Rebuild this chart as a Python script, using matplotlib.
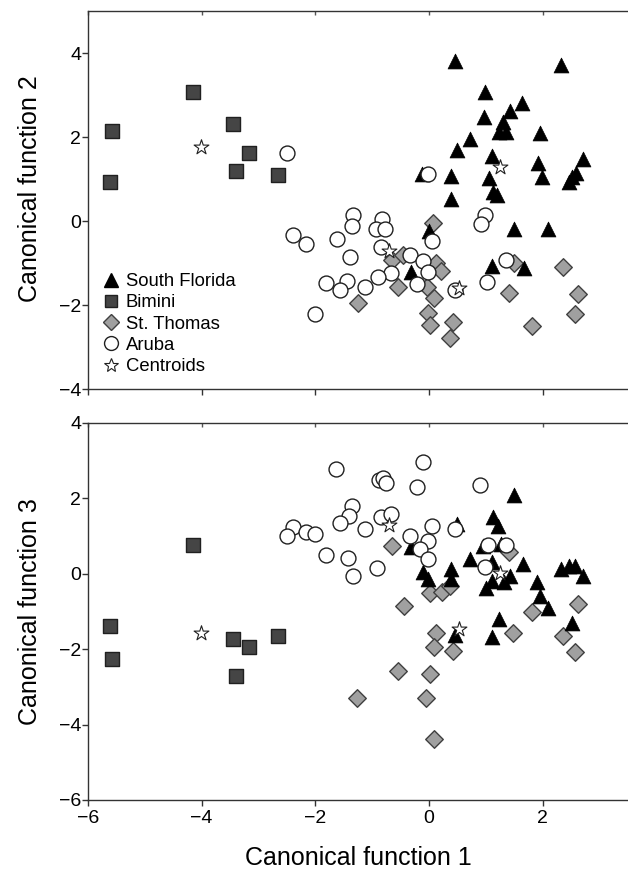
import matplotlib
matplotlib.use("Agg")
import matplotlib.pyplot as plt
from matplotlib.lines import Line2D

plt.rcParams['font.family'] = ['Liberation Sans', 'DejaVu Sans']

# ---------------- Top panel: canonical function 1 vs 2 ----------------
sf_x_top = [0.46, 2.33, 0.98, 1.64, 1.42, 0.96, 1.30, 1.23, 1.35, 1.95, 0.72, 0.50, 1.10,
            1.91, 2.70, 1.98, 2.59, 2.51, 2.46, -0.13, 0.38, 1.05, 1.13, 1.19, 0.38, 1.49,
            2.10, 0.00, 1.11, 1.67, -0.32]
sf_cf2 = [3.82, 3.71, 3.08, 2.80, 2.63, 2.48, 2.36, 2.12, 2.12, 2.10, 1.96, 1.70, 1.54,
          1.38, 1.48, 1.04, 1.15, 1.05, 0.94, 1.13, 1.08, 1.02, 0.70, 0.62, 0.52, -0.19,
          -0.20, -0.23, -1.07, -1.13, -1.22]

bim_x_top = [-5.57, -5.61, -4.15, -3.45, -3.17, -3.40, -2.65]
bim_cf2 = [2.15, 0.92, 3.06, 2.31, 1.62, 1.18, 1.10]

st_x_top = [0.07, -0.65, -0.46, 0.12, 0.21, -0.54, -1.25, -0.03, 0.08, -0.02, 0.02, 0.42,
            0.36, 1.50, 2.35, 1.41, 2.62, 2.57, 1.81]
st_cf2 = [-0.05, -0.93, -0.81, -1.01, -1.19, -1.58, -1.96, -1.56, -1.84, -2.20, -2.47, -2.40,
          -2.79, -0.99, -1.10, -1.72, -1.74, -2.21, -2.49]

ar_x_top = [-1.34, -1.35, -0.83, -0.93, -0.77, -2.39, -2.16, -1.62, -1.39, -0.85, -0.33, -0.11,
            -0.01, -0.21, -0.67, -0.89, 0.05, -1.81, -1.44, -1.56, -1.13, -2.00, 0.99, 0.91,
            0.45, 1.35, 1.02, -2.50, -0.01]
ar_cf2 = [0.15, -0.13, 0.04, -0.20, -0.20, -0.33, -0.55, -0.42, -0.86, -0.61, -0.81, -0.95,
          -1.22, -1.50, -1.24, -1.33, -0.47, -1.48, -1.44, -1.64, -1.56, -2.21, 0.14, -0.07,
          -1.64, -0.94, -1.46, 1.61, 1.13]

cen_x = [1.25, -4.01, 0.53, -0.71]
cen_cf2 = [1.28, 1.77, -1.59, -0.71]

# ---------------- Bottom panel: canonical function 1 vs 3 ----------------
sf_x_bot = [1.49, 1.13, 1.21, 0.50, -0.32, 0.95, 0.72, 1.65, 1.10, 2.33, 2.46, 2.57, 2.70,
            -0.11, -0.02, 0.38, 0.39, 1.42, 1.11, 1.01, 1.32, 1.90, 1.95, 2.09, 2.52, 1.23,
            1.11, 0.46, 1.27]
sf_cf3 = [2.08, 1.50, 1.26, 1.33, 0.71, 0.74, 0.40, 0.27, 0.30, 0.12, 0.21, 0.21, -0.05,
          0.05, -0.14, 0.13, -0.13, -0.05, -0.20, -0.38, -0.21, -0.23, -0.58, -0.91, -1.31,
          -1.19, -1.68, -1.62, 0.80]

bim_x_bot = [-4.15, -5.61, -5.57, -3.45, -3.17, -3.40, -2.65]
bim_cf3 = [0.77, -1.38, -2.26, -1.73, -1.94, -2.71, -1.64]

st_x_bot = [-0.65, 0.02, 0.22, 0.37, -0.44, 0.13, 0.08, 0.42, -0.55, 0.02, -1.26, -0.06,
            0.08, 1.41, 1.81, 1.48, 2.62, 2.35, 2.57]
st_cf3 = [0.74, -0.51, -0.47, -0.32, -0.85, -1.56, -1.93, -2.04, -2.59, -2.65, -3.30, -3.30,
          -4.38, 0.57, -1.00, -1.57, -0.80, -1.66, -2.08]

ar_x_bot = [-1.63, -1.36, -1.40, -1.56, -2.39, -2.50, -2.16, -2.00, -1.81, -1.43, -1.34, -1.13,
            -0.11, -0.88, -0.81, -0.76, -0.21, 0.90, -0.85, -0.67, 0.06, 0.46, -0.34, -0.01,
            -0.16, -0.01, 1.03, 1.35, 0.99, -0.92]
ar_cf3 = [2.79, 1.79, 1.54, 1.36, 1.25, 0.99, 1.11, 1.05, 0.50, 0.41, -0.07, 1.19,
          2.96, 2.49, 2.54, 2.42, 2.30, 2.35, 1.50, 1.59, 1.28, 1.19, 1.01, 0.86,
          0.66, 0.39, 0.77, 0.76, 0.19, 0.15]

cen_cf3 = [0.02, -1.56, -1.46, 1.29]

group_labels = ["South Florida", "Bimini", "St. Thomas", "Aruba", "Centroids"]
x_ticks = [-6, -4, -2, 0, 2]

W, H = 628, 876
fig = plt.figure(figsize=(W / 100, H / 100), dpi=100)

ax1 = fig.add_axes([88 / W, 1 - 389 / H, 1 - 88 / W, (389 - 11) / H])
ax2 = fig.add_axes([88 / W, 1 - 800 / H, 1 - 88 / W, (800 - 423) / H])

styles = dict(
    st=dict(marker='D', s=80, facecolor='#a0a0a0', edgecolor='#404040', linewidths=1.0, zorder=3),
    sf=dict(marker='^', s=115, facecolor='black', edgecolor='black', linewidths=0.5, zorder=4),
    ar=dict(marker='o', s=115, facecolor='white', edgecolor='#202020', linewidths=1.0, zorder=5),
    bim=dict(marker='s', s=88, facecolor='#454545', edgecolor='#202020', linewidths=1.0, zorder=6),
    cen=dict(marker='*', s=125, facecolor='white', edgecolor='#202020', linewidths=0.8, zorder=7),
)

ax1.scatter(st_x_top, st_cf2, **styles['st'])
ax1.scatter(sf_x_top, sf_cf2, **styles['sf'])
ax1.scatter(ar_x_top, ar_cf2, **styles['ar'])
ax1.scatter(bim_x_top, bim_cf2, **styles['bim'])
ax1.scatter(cen_x, cen_cf2, **styles['cen'])

ax2.scatter(st_x_bot, st_cf3, **styles['st'])
ax2.scatter(sf_x_bot, sf_cf3, **styles['sf'])
ax2.scatter(ar_x_bot, ar_cf3, **styles['ar'])
ax2.scatter(bim_x_bot, bim_cf3, **styles['bim'])
ax2.scatter(cen_x, cen_cf3, **styles['cen'])

for ax in (ax1, ax2):
    ax.set_xlim(-6, 3.5)
    ax.set_xticks(x_ticks)
    ax.spines['right'].set_visible(False)
    for sp in ('left', 'top', 'bottom'):
        ax.spines[sp].set_color('#333333')
        ax.spines[sp].set_linewidth(1.0)
    ax.tick_params(axis='both', direction='out', length=4, width=1, color='#333333',
                   labelsize=14, pad=1)
    ax.tick_params(axis='x', pad=3)
    sec = ax.secondary_xaxis('top')
    sec.set_xticks(x_ticks)
    sec.tick_params(direction='in', length=3, width=1, color='#555555', labeltop=False)
    sec.spines['top'].set_visible(False)

ax1.set_ylim(-4, 5)
ax1.set_yticks([-4, -2, 0, 2, 4])
ax1.tick_params(axis='x', labelbottom=False)
ax1.set_ylabel("Canonical function 2", fontsize=18)
ax1.yaxis.set_label_coords(-0.085, 0.53)

ax2.set_ylim(-6, 4)
ax2.set_yticks([-6, -4, -2, 0, 2, 4])
ax2.set_ylabel("Canonical function 3", fontsize=18)
ax2.yaxis.set_label_coords(-0.085, 0.5)
ax2.set_xlabel("Canonical function 1", fontsize=18, labelpad=14)

handles = [
    Line2D([], [], linestyle='none', marker='^', markersize=10.5, markerfacecolor='black',
           markeredgecolor='black'),
    Line2D([], [], linestyle='none', marker='s', markersize=9, markerfacecolor='#454545',
           markeredgecolor='#202020'),
    Line2D([], [], linestyle='none', marker='D', markersize=8.5, markerfacecolor='#a0a0a0',
           markeredgecolor='#404040'),
    Line2D([], [], linestyle='none', marker='o', markersize=10, markerfacecolor='white',
           markeredgecolor='#202020'),
    Line2D([], [], linestyle='none', marker='*', markersize=10, markerfacecolor='white',
           markeredgecolor='#202020', markeredgewidth=0.8),
]
ax1.legend(handles, group_labels, loc='lower left', bbox_to_anchor=(0.0, 0.0),
           frameon=False, fontsize=13.3, handlelength=1.0, handletextpad=0.3,
           labelspacing=0.23, borderaxespad=0.35)

fig.savefig("out.png", dpi=100)
